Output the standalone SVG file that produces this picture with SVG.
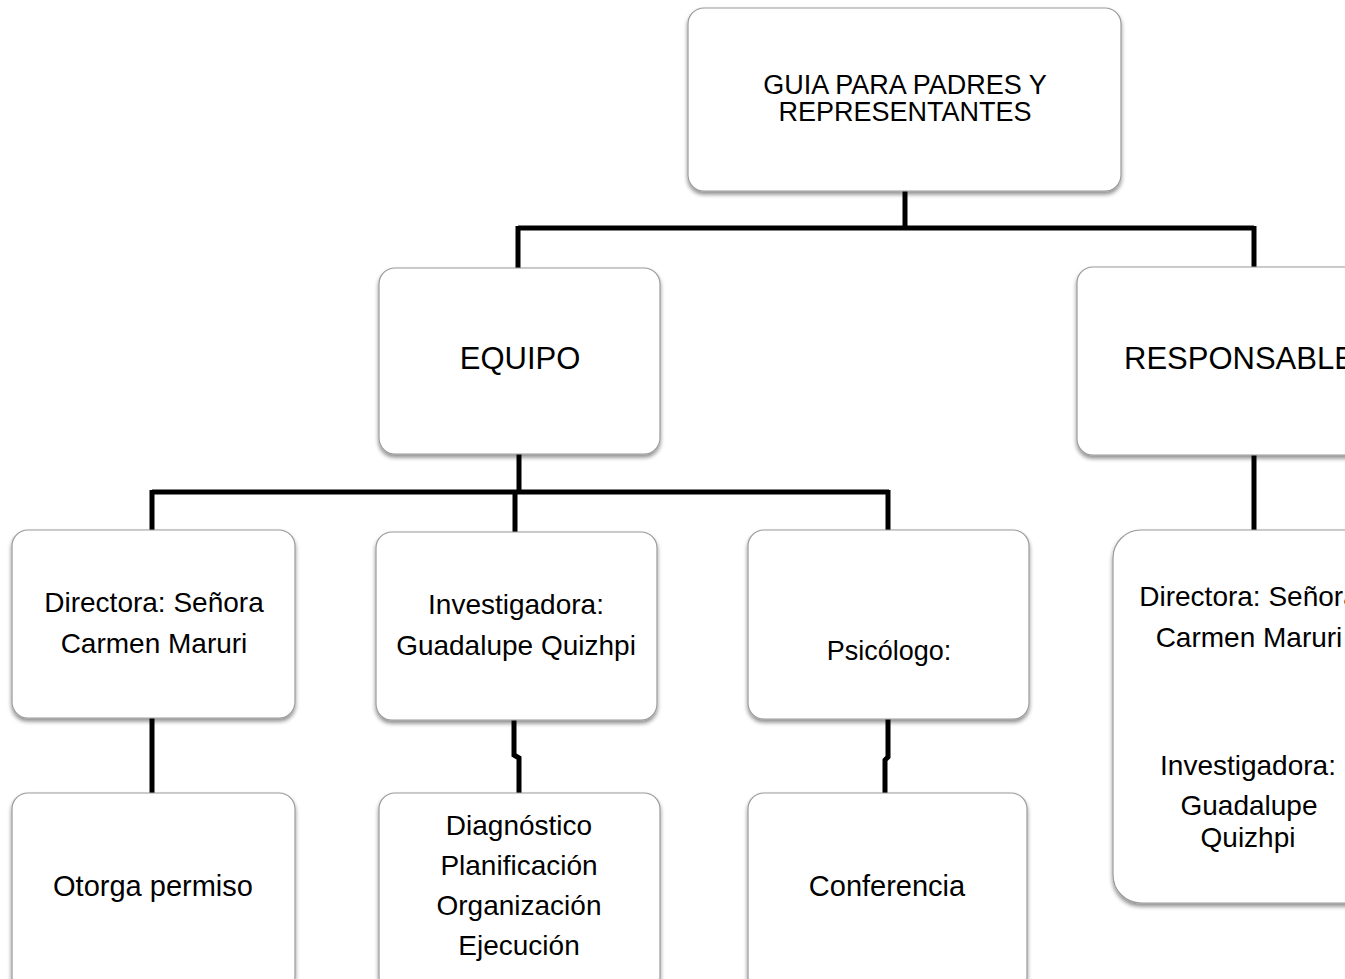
<svg xmlns="http://www.w3.org/2000/svg" width="1345" height="979" viewBox="0 0 1345 979">
<defs>
<filter id="sh" x="-10%" y="-10%" width="120%" height="125%">
<feGaussianBlur in="SourceAlpha" stdDeviation="2"/>
<feOffset dx="0" dy="3" result="b"/>
<feComponentTransfer><feFuncA type="linear" slope="0.45"/></feComponentTransfer>
<feMerge><feMergeNode/><feMergeNode in="SourceGraphic"/></feMerge>
</filter>
<style>
.box{fill:#fff;stroke:#9a9a9a;stroke-width:1.2;filter:url(#sh)}
.t{font-family:"Liberation Sans",Arial,sans-serif;fill:#000;text-anchor:middle}
.c{fill:none;stroke:#000;stroke-width:5;stroke-linejoin:miter}
</style>
</defs>
<rect width="1345" height="979" fill="#fff"/>
<g id="connectors">
<path class="c" d="M905 191 V228 M518 228 H1254 M518 226 V268 M1254 226 V268"/>
<path class="c" d="M519 454 V492 M152 492 H889 M152 490 V530 M515 492 V532 M888 490 V530"/>
<path class="c" d="M152 718 V793 M514 720 V755 L519 758 V793 M888 719 V757 L885 760 V793"/>
<path class="c" d="M1254 455 V530"/>
</g>
<g id="n-guia">
<rect class="box" x="688" y="8" width="433" height="183" rx="16"/>
<text class="t" font-size="27" x="905" y="94">GUIA PARA PADRES Y</text>
<text class="t" font-size="27" x="905" y="121">REPRESENTANTES</text>
</g>
<g id="n-equipo">
<rect class="box" x="379" y="268" width="281" height="186" rx="16"/>
<text class="t" font-size="31" x="520" y="369">EQUIPO</text>
</g>
<g id="n-responsable">
<rect class="box" x="1077" y="267" width="354" height="188" rx="16"/>
<text class="t" font-size="31" x="1124" y="369" style="text-anchor:start">RESPONSABLE</text>
</g>
<g id="n-directora">
<rect class="box" x="12" y="530" width="283" height="188" rx="16"/>
<text class="t" font-size="28" x="154" y="612">Directora: Señora</text>
<text class="t" font-size="28" x="154" y="653">Carmen Maruri</text>
</g>
<g id="n-investigadora">
<rect class="box" x="376" y="532" width="281" height="188" rx="16"/>
<text class="t" font-size="28" x="516" y="614">Investigadora:</text>
<text class="t" font-size="28" x="516" y="655">Guadalupe Quizhpi</text>
</g>
<g id="n-psicologo">
<rect class="box" x="748" y="530" width="281" height="189" rx="16"/>
<text class="t" font-size="27" x="889" y="660">Psicólogo:</text>
</g>
<g id="n-responsables-list">
<rect class="box" x="1113" y="530" width="300" height="373" rx="28"/>
<text class="t" font-size="28" x="1249" y="606">Directora: Señora</text>
<text class="t" font-size="28" x="1249" y="647">Carmen Maruri</text>
<text class="t" font-size="28" x="1248" y="775">Investigadora:</text>
<text class="t" font-size="28" x="1249" y="815">Guadalupe</text>
<text class="t" font-size="28" x="1248" y="847">Quizhpi</text>
</g>
<g id="n-otorga">
<rect class="box" x="12" y="793" width="283" height="200" rx="16"/>
<text class="t" font-size="29" x="153" y="896">Otorga permiso</text>
</g>
<g id="n-tareas">
<rect class="box" x="379" y="793" width="281" height="200" rx="16"/>
<text class="t" font-size="28" x="519" y="835">Diagnóstico</text>
<text class="t" font-size="28" x="519" y="875">Planificación</text>
<text class="t" font-size="28" x="519" y="915">Organización</text>
<text class="t" font-size="28" x="519" y="955">Ejecución</text>
</g>
<g id="n-conferencia">
<rect class="box" x="748" y="793" width="279" height="200" rx="16"/>
<text class="t" font-size="29" x="887" y="896">Conferencia</text>
</g>
</svg>
